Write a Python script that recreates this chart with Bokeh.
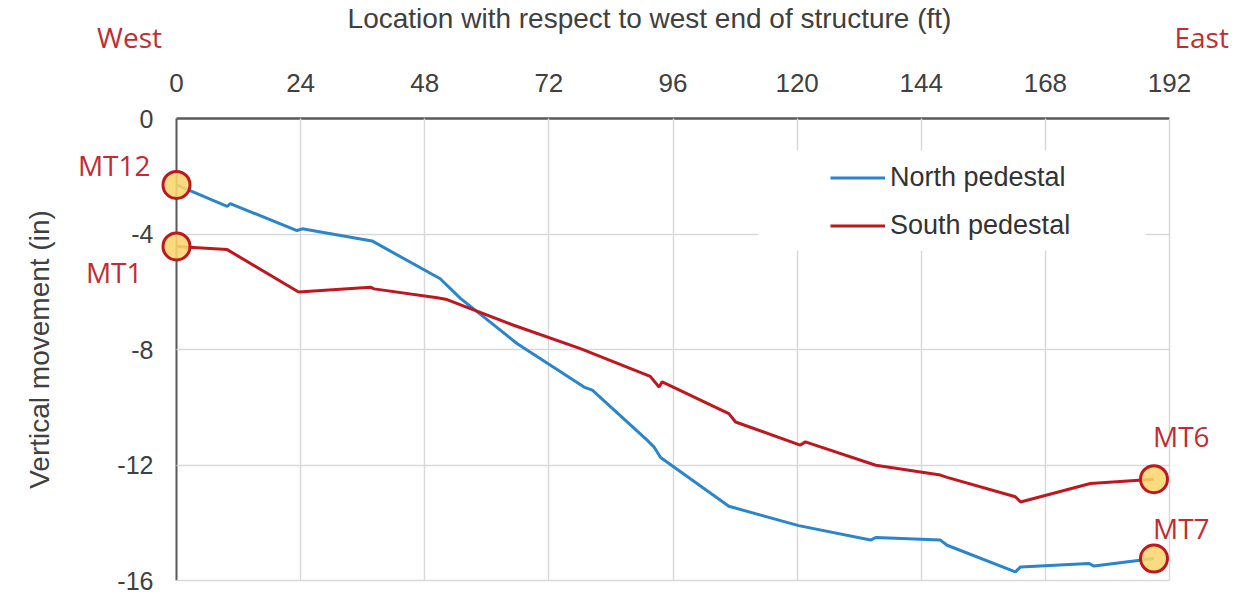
from bokeh.plotting import figure
from bokeh.models import Range1d, FixedTicker, Label, BoxAnnotation, Legend, LegendItem, Grid
from bokeh.embed import file_html
from bokeh.resources import INLINE

# ---- data ----
north_x = [0, 9.8, 10.4, 23.3, 24.3, 37.8, 51.0, 54.9, 65.9, 78.8, 80.4, 91.0, 92.3, 93.6,
           106.8, 120.3, 134.2, 135.2, 147.7, 149.0, 162.2, 163.2, 176.4, 177.4, 189]
north_y = [-2.3, -3.04, -2.95, -3.88, -3.82, -4.24, -5.55, -6.23, -7.80, -9.30, -9.41, -11.14, -11.37, -11.74,
           -13.43, -14.10, -14.60, -14.51, -14.60, -14.78, -15.70, -15.53, -15.41, -15.50, -15.24]
south_x = [0, 9.8, 23.6, 37.5, 38.2, 50.4, 52.3, 65.2, 78.1, 91.6, 93.3, 93.9, 106.8, 108.1,
           120.6, 121.6, 135.2, 147.7, 149.0, 162.2, 163.2, 176.7, 189]
south_y = [-4.43, -4.54, -6.01, -5.84, -5.90, -6.21, -6.27, -7.16, -7.97, -8.93, -9.30, -9.12, -10.22, -10.51,
           -11.31, -11.20, -12.01, -12.35, -12.43, -13.10, -13.28, -12.64, -12.49]
series_names = ["North pedestal", "South pedestal"]
x_ticks = [0, 24, 48, 72, 96, 120, 144, 168, 192]
y_ticks = [0, -4, -8, -12, -16]
x_title = "Location with respect to west end of structure (ft)"
y_title = "Vertical movement (in)"
end_names = ["West", "East"]
point_names = ["MT12", "MT7", "MT1", "MT6"]

# ---- styles / layout ----
BLUE = "#2A85CC"
RED = "#C0171E"
LABEL_RED = "#C42B31"
TXT = "#404040"
GRID = "#D9D9D9"
AXIS = "#595959"
FONT = "Liberation Sans"

W, H = 1236, 593
# pixel position of the plot box (x from 0..192, y from 0..-16)
PX_L, PX_R, PX_T, PX_B = 176, 1169, 118, 580
TITLE_CX = 649  # horizontal centre of the x-axis title
x_lo, x_hi = x_ticks[0], x_ticks[-1]
y_hi, y_lo = y_ticks[0], y_ticks[-1]
sx = (PX_R - PX_L) / (x_hi - x_lo)
sy = (PX_B - PX_T) / (y_hi - y_lo)
x_range = Range1d(x_lo - PX_L / sx, x_lo + (W - PX_L) / sx)
y_range = Range1d(y_hi - (H - PX_T) / sy, y_hi + PX_T / sy)

p = figure(width=W, height=H, x_range=x_range, y_range=y_range,
           x_axis_location="above", output_backend="svg", toolbar_location=None,
           min_border=0, min_border_left=0, min_border_right=0, min_border_top=0, min_border_bottom=0)
p.outline_line_color = None
p.background_fill_color = "white"
p.border_fill_color = "white"

# axes placed at the data origin
xt = FixedTicker(ticks=x_ticks)
yt = FixedTicker(ticks=y_ticks)
p.xaxis.ticker = xt
p.yaxis.ticker = yt
p.xaxis.fixed_location = y_hi
p.yaxis.fixed_location = x_lo
title_center = x_lo + (TITLE_CX - PX_L) / sx
p.xaxis.bounds = (2 * title_center - x_hi, x_hi)
p.yaxis.bounds = (y_lo, y_hi)
p.xaxis.major_label_overrides = {t: str(t) for t in x_ticks}
p.yaxis.major_label_overrides = {t: str(t) for t in y_ticks}
for ax in (p.xaxis, p.yaxis):
    ax.major_tick_line_color = None
    ax.minor_tick_line_color = None
    ax.major_label_text_font = FONT
    ax.major_label_text_color = TXT
    ax.axis_label_text_font = FONT
    ax.axis_label_text_font_style = "normal"
    ax.axis_label_text_color = TXT
    ax.level = "underlay"
p.xaxis.axis_line_color = None
p.yaxis.axis_line_color = AXIS
p.yaxis.axis_line_width = 2
p.xaxis.major_label_text_font_size = "26px"
p.yaxis.major_label_text_font_size = "25px"
p.xaxis.major_label_standoff = 21
p.yaxis.major_label_standoff = 17
p.xaxis.axis_label = x_title
p.xaxis.axis_label_text_font_size = "28px"
p.xaxis.axis_label_standoff = 37
p.yaxis.axis_label = y_title
p.yaxis.axis_label_text_font_size = "28px"
p.yaxis.axis_label_standoff = 59

# grid limited to the plot box (the lines on the axes themselves are the axis lines)
p.xgrid.ticker = FixedTicker(ticks=x_ticks[1:])
p.ygrid.ticker = FixedTicker(ticks=y_ticks[1:])
if "cross_bounds" in Grid.properties():
    p.xgrid.cross_bounds = (y_lo, y_hi)
    p.ygrid.cross_bounds = (x_lo, x_hi)
    p.xgrid.bounds = (x_lo, x_hi)
    p.ygrid.bounds = (y_lo, y_hi)
    for g in (p.xgrid, p.ygrid):
        g.grid_line_color = GRID
        g.grid_line_width = 1.5
else:
    for g in (p.xgrid, p.ygrid):
        g.visible = False
    p.segment(x0=x_ticks[1:], y0=[y_lo] * (len(x_ticks) - 1), x1=x_ticks[1:], y1=[y_hi] * (len(x_ticks) - 1),
              line_color=GRID, line_width=1.5, level="underlay")
    p.segment(x0=[x_lo] * (len(y_ticks) - 1), y0=y_ticks[1:], x1=[x_hi] * (len(y_ticks) - 1), y1=y_ticks[1:],
              line_color=GRID, line_width=1.5, level="underlay")

# top axis line (x axis sits at y = 0)
p.segment(x0=[x_lo], y0=[y_hi], x1=[x_hi], y1=[y_hi], line_color=AXIS, line_width=2.5, level="underlay")

# white legend background (hides grid behind legend)
p.add_layout(BoxAnnotation(left=112.5, right=187.4, top=-1.11, bottom=-4.57,
                           fill_color="white", fill_alpha=1, line_color=None, level="underlay"))

r_n = p.line(north_x, north_y, line_color=BLUE, line_width=3)
r_s = p.line(south_x, south_y, line_color=RED, line_width=3)

end_x = [north_x[0], north_x[-1], south_x[0], south_x[-1]]
end_y = [north_y[0], north_y[-1], south_y[0], south_y[-1]]
p.scatter(end_x, end_y, size=27, fill_color="#F9D66E", fill_alpha=0.88, line_color=RED, line_width=3)

legend = Legend(items=[LegendItem(label=series_names[0], renderers=[r_n]),
                       LegendItem(label=series_names[1], renderers=[r_s])],
                location=(830, 352), glyph_width=55, glyph_height=31, label_height=31,
                label_standoff=5, spacing=17, padding=0, margin=0,
                background_fill_alpha=0, border_line_color=None,
                label_text_font=FONT, label_text_font_size="27px", label_text_color="#333333")
p.add_layout(legend)

lab_style = dict(text_font="Open Sans", text_font_size="28px", text_color=LABEL_RED,
                 text_baseline="middle")
p.add_layout(Label(x=end_x[0], y=end_y[0], x_offset=-26, y_offset=20, text=point_names[0],
                   text_align="right", **lab_style))
p.add_layout(Label(x=end_x[1], y=end_y[1], x_offset=-1, y_offset=31, text=point_names[1],
                   text_align="left", **lab_style))
p.add_layout(Label(x=end_x[2], y=end_y[2], x_offset=-34, y_offset=-26, text=point_names[2],
                   text_align="right", **lab_style))
p.add_layout(Label(x=end_x[3], y=end_y[3], x_offset=-1, y_offset=43, text=point_names[3],
                   text_align="left", **lab_style))
p.add_layout(Label(x=x_lo, y=y_hi, x_offset=-47, y_offset=82, text=end_names[0],
                   text_align="center", **lab_style))
p.add_layout(Label(x=x_hi, y=y_hi, x_offset=5, y_offset=82, text=end_names[1],
                   text_align="left", **lab_style))

open("out.html", "w").write(file_html(p, INLINE))
